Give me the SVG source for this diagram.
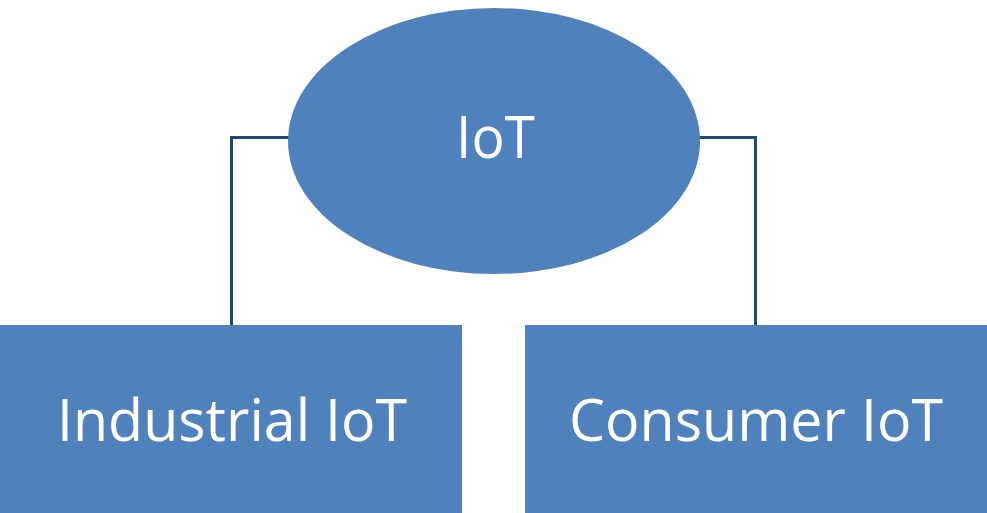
<svg xmlns="http://www.w3.org/2000/svg" width="987" height="513" viewBox="0 0 987 513">
<style>
.n{fill:#4F81BD}
.t{fill:#fff;font-family:"Open Sans","Liberation Sans",sans-serif;font-size:58px;text-anchor:middle}
.c{fill:none;stroke:#1F497D;stroke-width:3}
</style>
<rect width="987" height="513" fill="#fff"/>
<g id="connectors">
<path class="c" d="M290,137.5 H231.5 V326"/>
<path class="c" d="M698,137.5 H755.5 V326"/>
</g>
<g id="iot">
<ellipse class="n" cx="494" cy="141" rx="206" ry="133"/>
<text class="t" x="495.5" y="158" textLength="79" lengthAdjust="spacingAndGlyphs">IoT</text>
</g>
<g id="industrial">
<rect class="n" x="0" y="325" width="462" height="188"/>
<text class="t" x="232" y="441" textLength="350" lengthAdjust="spacingAndGlyphs">Industrial IoT</text>
</g>
<g id="consumer">
<rect class="n" x="525" y="325" width="462" height="188"/>
<text class="t" x="756" y="441" textLength="374" lengthAdjust="spacingAndGlyphs">Consumer IoT</text>
</g>
</svg>
